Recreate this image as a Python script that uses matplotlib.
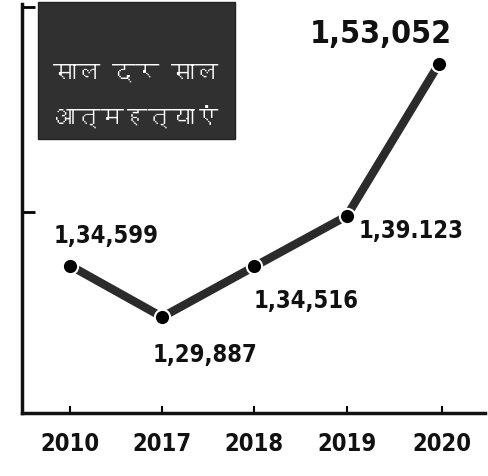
import matplotlib
matplotlib.use('Agg')
import matplotlib.pyplot as plt
from matplotlib import font_manager
from matplotlib.patches import Rectangle
from matplotlib.ft2font import FT2Font

years = ['2010', '2017', '2018', '2019', '2020']
suicides = [134599, 129887, 134516, 139123, 153052]
value_labels = ['1,34,599', '1,29,887', '1,34,516', '1,39.123', '1,53,052']
title_lines = ['साल दर साल', 'आत्महत्याएं']


def find_font(char):
    # look for any installed font that has this glyph
    for f in font_manager.fontManager.ttflist:
        try:
            if FT2Font(f.fname).get_char_index(ord(char)):
                return f.name
        except Exception:
            pass
    return None


deva_font = find_font('स')
title_family = [deva_font, 'DejaVu Sans'] if deva_font else ['DejaVu Sans']
num_font = dict(family='DejaVu Sans', fontstretch='condensed', fontweight='bold', color='#111111')

fig = plt.figure(figsize=(4.89, 4.77), dpi=100)
ax = fig.add_axes([22 / 489, 63 / 477, 463 / 489, 409 / 477])

x = list(range(len(years)))
ax.plot(x, suicides, color='#2b2b2b', lw=6, solid_capstyle='round', zorder=2)
ax.plot(x, suicides, 'o', color='black', ms=11, mec='white', mew=1.5, zorder=3)

ax.set_xlim(-0.52, 4.5)
ax.set_ylim(121096, 158546)

# label offsets in points (dx, dy)
offsets = [(26, 22), (31, -27), (37, -24), (46, -10), (-42, 22)]
sizes = [17, 17, 17, 17, 23]
for i, (lab, (dx, dy)) in enumerate(zip(value_labels, offsets)):
    ax.annotate(lab, (x[i], suicides[i]), xytext=(dx, dy), textcoords='offset points',
                ha='center', va='center', fontsize=sizes[i], **num_font)

ax.set_xticks([0, 1.0, 1.99, 3.0, 4.03])
ax.set_xticklabels(years, fontsize=17, **num_font)
ax.set_yticks([139500, 158300])
ax.set_yticklabels([])
ax.tick_params(axis='x', direction='in', length=5, width=1.5, pad=13)
ax.tick_params(axis='y', direction='in', length=9, width=2)

for s in ['top', 'right']:
    ax.spines[s].set_visible(False)
for s in ['left', 'bottom']:
    ax.spines[s].set_linewidth(2.5)
    ax.spines[s].set_color('#111111')

# dark title box
box = Rectangle((38 / 489, 1 - 140 / 477), 197 / 489, 137 / 477, transform=fig.transFigure,
                facecolor='#303030', edgecolor='#222222', lw=1, zorder=5)
fig.patches.append(box)
fig.text(136 / 489, 1 - 73 / 477, title_lines[0], ha='center', va='center', fontsize=17,
         fontweight='bold', color='white', family=title_family, zorder=6)
fig.text(136 / 489, 1 - 117 / 477, title_lines[1], ha='center', va='center', fontsize=17,
         fontweight='bold', color='white', family=title_family, zorder=6)

fig.savefig('out.png', dpi=100)
